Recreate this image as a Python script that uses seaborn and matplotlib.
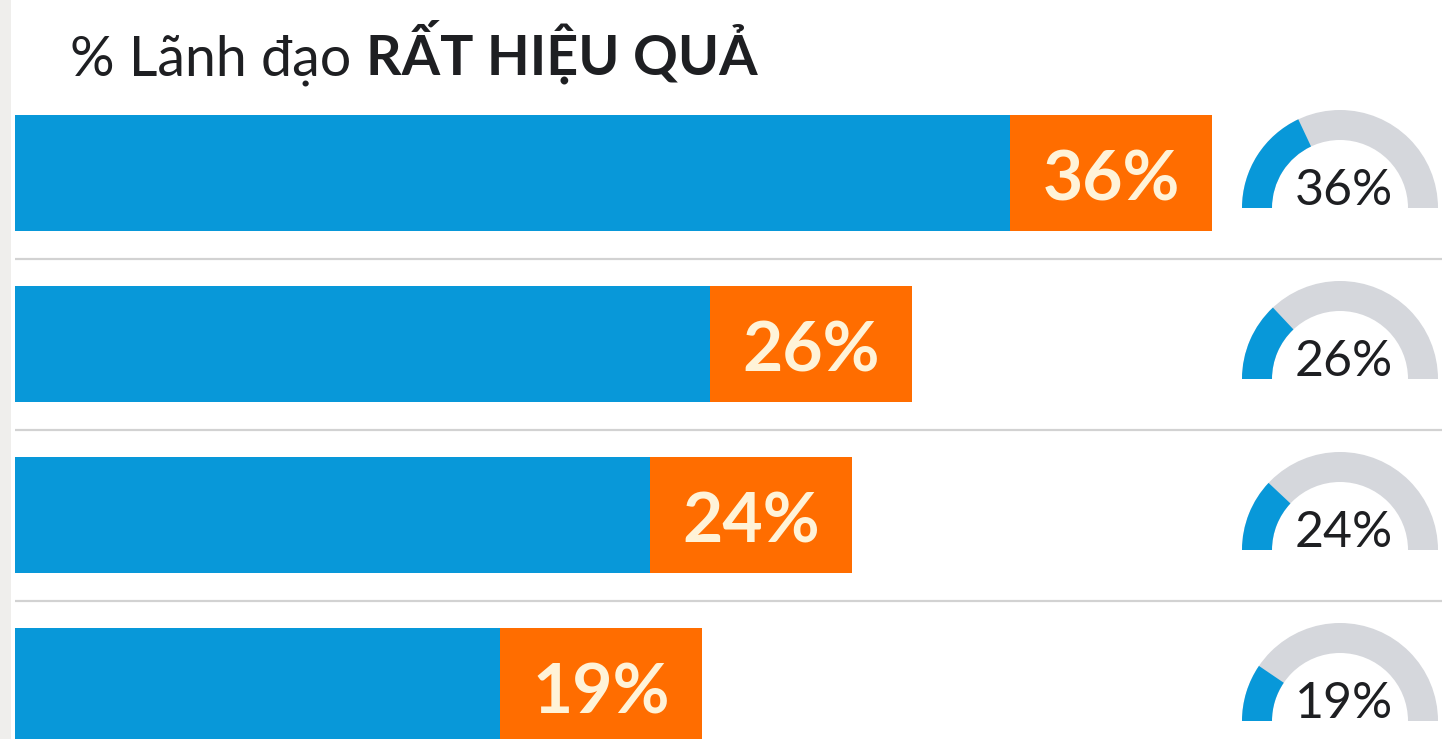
import matplotlib
matplotlib.use("Agg")
import matplotlib.pyplot as plt
from matplotlib.patches import Wedge, Rectangle
import seaborn as sns
import pandas as pd

# ---- data ----
rows = ["Nhóm 1", "Nhóm 2", "Nhóm 3", "Nhóm 4"]
values = [36, 26, 24, 19]
labels = ["36%", "26%", "24%", "19%"]
title_regular = "% Lãnh đạo "
title_bold = "RẤT HIỆU QUẢ"

# ---- style ----
BLUE = "#0898D9"
ORANGE = "#FF6D00"
CREAM = "#FFF3D8"
GAUGE_GRAY = "#D5D7DC"
DARK = "#1E1F22"
SEP = "#D2D2D2"

sns.set_theme(style="white")
plt.rcParams["font.family"] = ["Lato", "DejaVu Sans"]

W, H = 1442, 739
fig = plt.figure(figsize=(W / 100, H / 100), dpi=100)
fig.patch.set_facecolor("white")

# main bar axes (pixel 15 -> right edge)
ax = fig.add_axes([15 / W, 0, (W - 15) / W, 1])
df = pd.DataFrame({"row": rows, "value": values})
sns.barplot(data=df, x="value", y="row", orient="h", color=BLUE, saturation=1,
            width=0.68, linewidth=0, ax=ax, errorbar=None)
box_w = 6.73
ax.barh(range(len(rows)), [box_w] * len(rows), left=values, height=0.68,
        color=ORANGE, linewidth=0)
for i, (v, lab) in enumerate(zip(values, labels)):
    ax.text(v + box_w / 2, i + 0.158, lab, ha="center", va="baseline",
            fontsize=50, fontweight="bold", color=CREAM)
for i in range(len(rows) - 1):
    ax.axhline(i + 0.5, color=SEP, lw=1.6, zorder=0)
ax.set_xlim(85 / 30, 1512 / 30)
ax.set_ylim(3.31, -1.012)
ax.axis("off")

# overlay axes in pixel coords for gauges / decorations
gax = fig.add_axes([0, 0, 1, 1], zorder=3)
gax.set_xlim(0, W)
gax.set_ylim(H, 0)
gax.axis("off")
gax.patch.set_alpha(0)
gax.add_patch(Rectangle((0, 0), 11, H, color="#EFEEEC", lw=0))

cx, r, wdt = 1340, 98, 30
for i, (v, lab) in enumerate(zip(values, labels)):
    cy = 208 + 171 * i
    gax.add_patch(Wedge((cx, cy), r, 180, 360, width=wdt, color=GAUGE_GRAY, lw=0))
    gax.add_patch(Wedge((cx, cy), r, 180, 180 + v * 1.8, width=wdt, color=BLUE, lw=0))
    gax.text(cx + 4, cy - 3, lab, ha="center", va="baseline", fontsize=36, color=DARK)

# title with mixed weights
t1 = fig.text(70 / W, 1 - 75 / H, title_regular, fontsize=40, color=DARK, va="baseline")
renderer = fig.canvas.get_renderer()
bb = t1.get_window_extent(renderer=renderer)
fig.text(bb.x1 / W, 1 - 75 / H, title_bold, fontsize=40, fontweight="bold",
         color=DARK, va="baseline")

fig.savefig("out.png", dpi=100)
